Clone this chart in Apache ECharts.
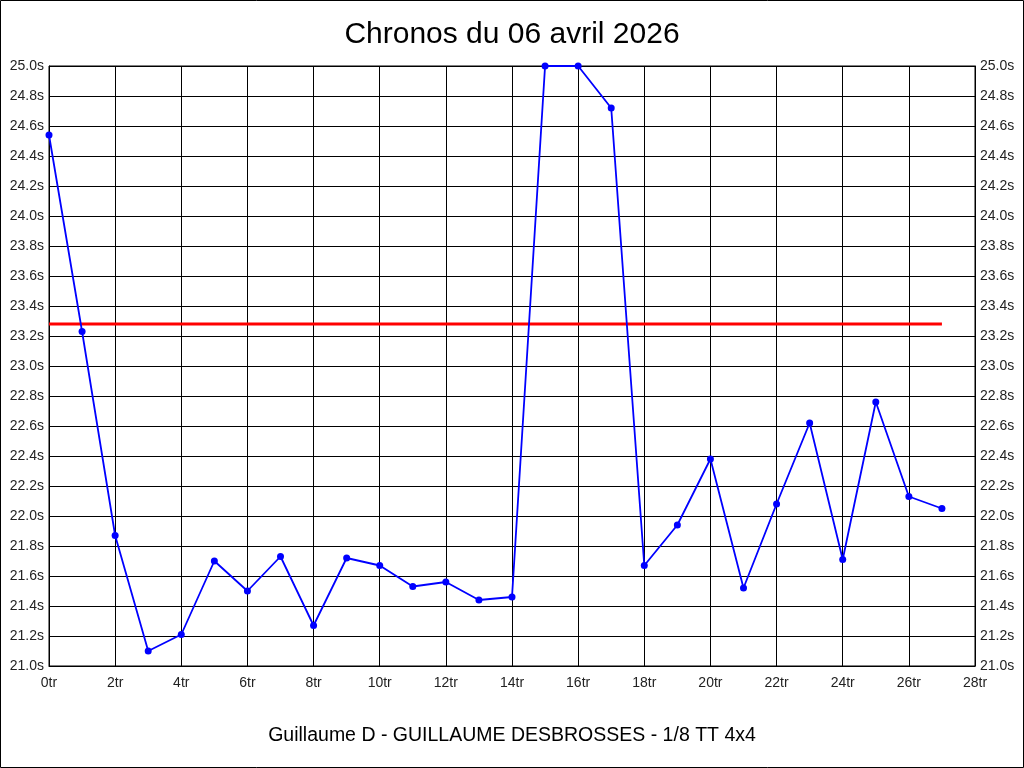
<!DOCTYPE html>
<html>
<head>
<meta charset="utf-8">
<script src="https://cdn.jsdelivr.net/npm/echarts@6/dist/echarts.min.js"></script>
<style>
  html, body { margin: 0; padding: 0; background: #fff; }
  #chart { width: 1024px; height: 768px; }
</style>
</head>
<body>
<div id="chart"></div>
<script>
// tours (laps) and chrono per lap
var laps = [0, 1, 2, 3, 4, 5, 6, 7, 8, 9, 10, 11, 12, 13, 14, 15, 16, 17, 18, 19, 20, 21, 22, 23, 24, 25, 26, 27];
var chronos = [24.54, 23.23, 21.87, 21.10, 21.21, 21.70, 21.50, 21.73, 21.27, 21.72, 21.67, 21.53, 21.56, 21.44, 21.46,
               25.00, 25.00, 24.72, 21.67, 21.94, 22.38, 21.52, 22.08, 22.62, 21.71, 22.76, 22.13, 22.05];
var moyenne = 23.28;
var titre = 'Chronos du 06 avril 2026';
var pilote = 'Guillaume D - GUILLAUME DESBROSSES - 1/8 TT 4x4';

var font = '"Liberation Sans", Arial, sans-serif';

var points = laps.map(function (l, i) { return [l, chronos[i]]; });
var ligneMoyenne = [[laps[0], moyenne], [laps[laps.length - 1], moyenne]];

function yAxe(pos) {
    return {
        type: 'value',
        position: pos,
        min: 21,
        max: 25,
        interval: 0.2,
        axisLine: { show: true, lineStyle: { color: '#000', width: 1 } },
        axisTick: { show: false },
        axisLabel: {
            color: '#222',
            fontFamily: font,
            fontSize: 14,
            margin: 5,
            formatter: function (v) { return v.toFixed(1) + 's'; }
        },
        splitLine: { show: pos === 'left', lineStyle: { color: '#000', width: 1 } }
    };
}

var chart = echarts.init(document.getElementById('chart'));
chart.setOption({
    animation: false,
    backgroundColor: '#fff',
    title: [
        {
            text: titre,
            left: 'center',
            top: 15,
            textStyle: { fontFamily: font, fontSize: 30, fontWeight: 'normal', color: '#000' }
        },
        {
            text: pilote,
            left: 'center',
            top: 721,
            textStyle: { fontFamily: font, fontSize: 19.5, fontWeight: 'normal', color: '#000' }
        }
    ],
    grid: { left: 49, right: 49, top: 66, bottom: 102, containLabel: false },
    xAxis: {
        type: 'value',
        min: 0,
        max: 28,
        interval: 2,
        axisLine: { show: true, onZero: false, lineStyle: { color: '#000', width: 1 } },
        axisTick: { show: false },
        axisLabel: {
            color: '#222',
            fontFamily: font,
            fontSize: 14,
            margin: 10,
            formatter: function (v) { return v + 'tr'; }
        },
        splitLine: { show: true, lineStyle: { color: '#000', width: 1 } }
    },
    yAxis: [yAxe('left'), yAxe('right')],
    graphic: [
        {
            type: 'rect',
            shape: { x: 0.5, y: 0.5, width: 1023, height: 767 },
            style: { fill: 'none', stroke: '#000', lineWidth: 1 },
            z: 100
        },
        {
            type: 'rect',
            shape: { x: 49, y: 66, width: 926, height: 600 },
            style: { fill: 'none', stroke: '#000', lineWidth: 1 },
            z: 1
        }
    ],
    series: [
        {
            type: 'line',
            data: ligneMoyenne,
            symbol: 'none',
            lineStyle: { color: '#ff0000', width: 3 },
            z: 3
        },
        {
            type: 'line',
            data: points,
            symbol: 'circle',
            symbolSize: 7,
            clip: false,
            itemStyle: { color: '#0000ff' },
            lineStyle: { color: '#0000ff', width: 1.8 },
            z: 4
        }
    ]
});
</script>
</body>
</html>
